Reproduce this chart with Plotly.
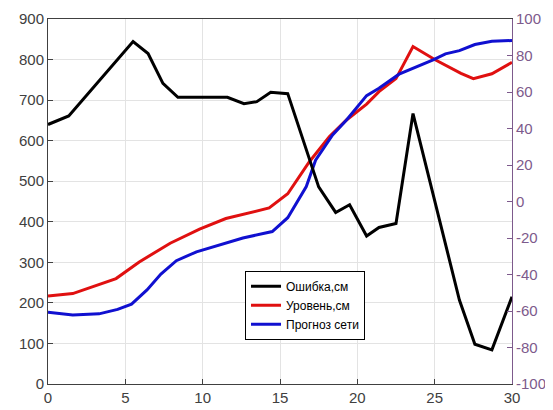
import plotly.graph_objects as go

# Error series (right axis, cm)
err_x = [0, 1.34, 5.5, 6.47, 7.43, 8.4, 11.6, 12.67, 13.5, 14.4, 15.5, 17.5, 18.6, 19.5, 20.6, 21.4, 22.5, 23.6, 26.6, 27.6, 28.7, 30]
err_y = [42.2, 46.9, 87.6, 81.1, 64.7, 57.1, 57.1, 53.6, 54.7, 59.8, 59.1, 8.0, -6.0, -1.8, -18.9, -14.2, -12.0, 48.2, -54.0, -78.2, -81.3, -52.2]

# Level series (left axis, cm)
lvl_x = [0, 1.6, 4.4, 5.9, 7.9, 9.8, 11.5, 14.3, 15.5, 16.9, 18.2, 19.3, 20.6, 21.4, 22.5, 23.6, 25.0, 26.7, 27.5, 28.7, 30]
lvl_y = [217, 223, 260, 301, 347, 382, 408, 434, 469, 548, 610, 651, 690, 721, 753, 832, 800, 766, 753, 765, 793]

# Network forecast (left axis, cm)
net_x = [0, 1.6, 3.3, 4.5, 5.4, 6.4, 7.3, 8.3, 9.6, 11.5, 12.6, 14.5, 15.5, 16.7, 17.3, 18.4, 19.3, 20.6, 21.4, 22.7, 24.9, 25.7, 26.6, 27.6, 28.7, 30]
net_y = [177, 170, 173, 184, 197, 232, 271, 304, 326, 347, 360, 376, 410, 487, 552, 614, 651, 711, 729, 764, 799, 814, 822, 837, 845, 847]

names = ["Ошибка,см", "Уровень,см", "Прогноз сети"]

x_ticks = [0, 5, 10, 15, 20, 25, 30]
y_ticks = list(range(0, 901, 100))
y2_ticks = list(range(-100, 101, 20))
y2_labels = [str(v) for v in y2_ticks]  # ASCII hyphen minus, as in the reference

purple = "#7d5a8c"
axis_gray = "#404040"
font_family = "Liberation Sans, Arial, sans-serif"

fig = go.Figure()
fig.add_trace(go.Scatter(x=err_x, y=err_y, mode="lines", name=names[0],
                         line=dict(color="black", width=3), yaxis="y2"))
fig.add_trace(go.Scatter(x=lvl_x, y=lvl_y, mode="lines", name=names[1],
                         line=dict(color="#e01010", width=3)))
fig.add_trace(go.Scatter(x=net_x, y=net_y, mode="lines", name=names[2],
                         line=dict(color="#1010d0", width=3)))

# page body has an 8px default margin, so the figure is sized/offset to compensate
fig.update_layout(
    width=545, height=402,
    margin=dict(l=40, r=41, t=11, b=26),
    paper_bgcolor="white", plot_bgcolor="white",
    font=dict(family=font_family, size=15, color=axis_gray),
    showlegend=True,
    legend=dict(x=0.4246, y=0.31, xanchor="left", yanchor="top",
                bgcolor="white", bordercolor="black", borderwidth=1,
                font=dict(size=12, color="black"), tracegroupgap=0,
                itemwidth=30),
    xaxis=dict(range=[0, 30], tickvals=x_ticks, showgrid=True, gridcolor="#e3e3e3",
               showline=True, linecolor=axis_gray, linewidth=1, mirror=True,
               ticks="inside", ticklen=5, tickcolor=axis_gray, zeroline=False,
               automargin=False, tickfont=dict(size=15, color=axis_gray)),
    yaxis=dict(range=[0, 900], tickvals=y_ticks, showgrid=True, gridcolor="#e3e3e3",
               showline=True, linecolor=axis_gray, linewidth=1,
               ticks="inside", ticklen=5, tickcolor=axis_gray, zeroline=False,
               automargin=False, tickfont=dict(size=15, color=axis_gray)),
    yaxis2=dict(range=[-100, 100], tickvals=y2_ticks, ticktext=y2_labels,
                overlaying="y", side="right",
                showgrid=False, showline=True, linecolor=purple, linewidth=1,
                ticks="inside", ticklen=5, tickcolor=purple, zeroline=False,
                automargin=False, tickfont=dict(size=15, color=purple)),
)

fig.write_html("out.html")
